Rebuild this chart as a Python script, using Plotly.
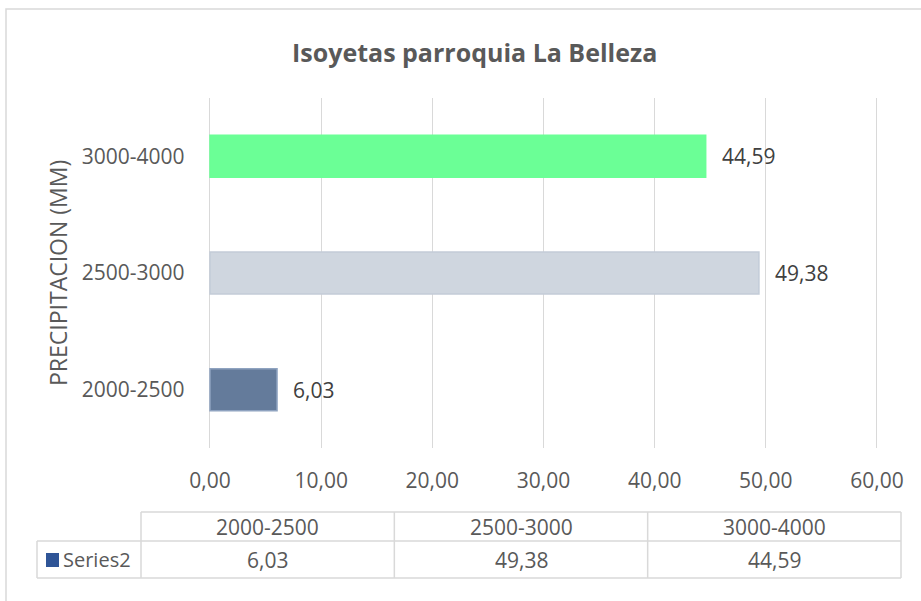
import plotly.graph_objects as go

# ---- data ----
categories = ["2000-2500", "2500-3000", "3000-4000"]
values = [6.03, 49.38, 44.59]
series_name = "Series2"
x_ticks = [0, 10, 20, 30, 40, 50, 60]
chart_title = "Isoyetas parroquia La Belleza"
y_title = "PRECIPITACION (MM)"

# ---- styles ----
bar_colors = ["#647B9B", "#CFD6DF", "#6BFF96"]
bar_lines = ["#8FA3C0", "#C3CCD8", "#6BFF96"]
W, H = 921, 601
FONT = "Open Sans"
GRID = "#D9D9D9"


def X(px):
    return px / W


def Y(py):
    return 1 - py / H


def fmt(v):
    return f"{v:.2f}".replace(".", ",")


fig = go.Figure(
    go.Bar(
        y=categories,
        x=values,
        orientation="h",
        marker=dict(color=bar_colors, line=dict(color=bar_lines, width=1.5)),
        hoverinfo="skip",
        showlegend=False,
    )
)

plot_top, plot_bot, zero_px, max_px = 98, 448, 210, 877
x_min, x_max = x_ticks[0], x_ticks[-1]
pad = 0.2  # keep edge gridlines (plotly drops lines within 1px of the plot edge)
ppu = (max_px - zero_px) / (x_max - x_min)

fig.update_layout(
    width=W,
    height=H,
    margin=dict(l=0, r=0, t=0, b=0, autoexpand=False),
    paper_bgcolor="white",
    plot_bgcolor="white",
    separators=",.",
    bargap=0.64,
    font=dict(family=FONT, size=21, color="#595959"),
    xaxis=dict(
        domain=[X(zero_px - pad * ppu), X(max_px + pad * ppu)],
        range=[x_min - pad, x_max + pad],
        tickvals=x_ticks,
        tickformat=".2f",
        showgrid=True,
        gridcolor=GRID,
        gridwidth=1,
        zeroline=False,
        showline=False,
        ticks="outside",
        ticklen=0,
        tickcolor="white",
        ticklabelstandoff=14,
        automargin=False,
        tickfont=dict(size=21, color="#595959"),
        fixedrange=True,
    ),
    yaxis=dict(
        domain=[Y(plot_bot), Y(plot_top)],
        type="category",
        showgrid=False,
        zeroline=False,
        showline=False,
        ticks="outside",
        ticklen=0,
        tickcolor="white",
        ticklabelstandoff=int(round(20 - pad * ppu)),
        automargin=False,
        tickfont=dict(size=21, color="#595959"),
        fixedrange=True,
    ),
)

annotations = []
shapes = []

# Title
annotations.append(dict(
    text=f"<b>{chart_title}</b>", x=X(474), y=Y(52), xref="paper", yref="paper",
    xanchor="center", yanchor="middle", showarrow=False,
    font=dict(family=FONT, size=25, color="#595959"),
))

# Y axis title
annotations.append(dict(
    text=y_title, x=X(58), y=Y(273), xref="paper", yref="paper",
    xanchor="center", yanchor="middle", showarrow=False, textangle=-90,
    font=dict(family=FONT, size=23, color="#595959"),
))

# Data labels
for c, v in zip(categories, values):
    annotations.append(dict(
        text=fmt(v), x=v, y=c, xref="x", yref="y", xanchor="left", yanchor="middle",
        xshift=14, showarrow=False, font=dict(family=FONT, size=21, color="#404040"),
    ))

# Outer chart border
shapes.append(dict(type="rect", xref="paper", yref="paper",
                   x0=X(6), x1=X(940), y0=Y(9), y1=Y(620),
                   line=dict(color=GRID, width=1.5), fillcolor="rgba(0,0,0,0)", layer="below"))

# Data table
t_left, t_c0, t_right = 37, 141, 901
t_top, t_mid, t_bot = 512, 541, 578
col_w = (t_right - t_c0) / len(categories)
tline = dict(color=GRID, width=1.5)
shapes.append(dict(type="line", xref="paper", yref="paper", x0=X(t_c0), x1=X(t_right), y0=Y(t_top), y1=Y(t_top), line=tline))
shapes.append(dict(type="line", xref="paper", yref="paper", x0=X(t_left), x1=X(t_right), y0=Y(t_mid), y1=Y(t_mid), line=tline))
shapes.append(dict(type="line", xref="paper", yref="paper", x0=X(t_left), x1=X(t_right), y0=Y(t_bot), y1=Y(t_bot), line=tline))
shapes.append(dict(type="line", xref="paper", yref="paper", x0=X(t_left), x1=X(t_left), y0=Y(t_mid), y1=Y(t_bot), line=tline))
for i in range(len(categories) + 1):
    xx = t_c0 + i * col_w
    shapes.append(dict(type="line", xref="paper", yref="paper", x0=X(xx), x1=X(xx), y0=Y(t_top), y1=Y(t_bot), line=tline))

for i, (c, v) in enumerate(zip(categories, values)):
    cx = t_c0 + (i + 0.5) * col_w
    annotations.append(dict(text=c, x=X(cx), y=Y((t_top + t_mid) / 2), xref="paper", yref="paper",
                            xanchor="center", yanchor="middle", showarrow=False,
                            font=dict(family=FONT, size=21, color="#595959")))
    annotations.append(dict(text=fmt(v), x=X(cx), y=Y((t_mid + t_bot) / 2), xref="paper", yref="paper",
                            xanchor="center", yanchor="middle", showarrow=False,
                            font=dict(family=FONT, size=21, color="#595959")))

# legend key
shapes.append(dict(type="rect", xref="paper", yref="paper", x0=X(46), x1=X(59), y0=Y(553), y1=Y(567),
                   fillcolor="#2F5597", line=dict(width=0)))
annotations.append(dict(text=series_name, x=X(61), y=Y((t_mid + t_bot) / 2), xref="paper", yref="paper",
                        xanchor="left", yanchor="middle", showarrow=False,
                        font=dict(family=FONT, size=20, color="#595959")))

fig.update_layout(annotations=annotations, shapes=shapes)
fig.write_html(
    "out.html",
    config={"displayModeBar": False, "staticPlot": True},
    post_script="document.body.style.margin='0';document.body.style.overflow='hidden';",
)
